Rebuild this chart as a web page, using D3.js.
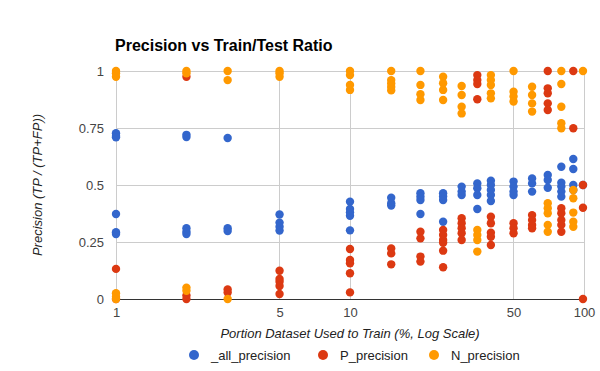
<!DOCTYPE html>
<html>
<head>
<meta charset="utf-8">
<script src="https://cdn.jsdelivr.net/npm/d3@7"></script>
<style>
  body { margin: 0; background: #fff; }
  svg { font-family: "Liberation Sans", Arial, sans-serif; }
</style>
</head>
<body>
<svg id="chart" width="600" height="371"></svg>
<script>
// Series as [train %, precision] pairs
var allPrecision = [
    [1, 0.727], [1, 0.715], [1, 0.709], [1, 0.373], [1, 0.293], [1, 0.285],
    [2, 0.72], [2, 0.71], [2, 0.31], [2, 0.295], [2, 0.285],
    [3, 0.706], [3, 0.31], [3, 0.298],
    [5, 0.371], [5, 0.335], [5, 0.317], [5, 0.3],
    [10, 0.427], [10, 0.395], [10, 0.38], [10, 0.365], [10, 0.301],
    [15, 0.444], [15, 0.42], [15, 0.41],
    [20, 0.464], [20, 0.449], [20, 0.434], [20, 0.373],
    [25, 0.464], [25, 0.45], [25, 0.434], [25, 0.339],
    [30, 0.493], [30, 0.471], [30, 0.456],
    [35, 0.507], [35, 0.486], [35, 0.456], [35, 0.395],
    [40, 0.519], [40, 0.5], [40, 0.478], [40, 0.456], [40, 0.43],
    [50, 0.515], [50, 0.493], [50, 0.471], [50, 0.456],
    [60, 0.529], [60, 0.507], [60, 0.471],
    [70, 0.544], [70, 0.522], [70, 0.488],
    [80, 0.58], [80, 0.51], [80, 0.493], [80, 0.471], [80, 0.449],
    [90, 0.614], [90, 0.57], [90, 0.5], [90, 0.478],
    [99, 0.5]
];

var pPrecision = [
    [1, 0.132], [1, 0.0],
    [2, 0.975], [2, 0.015], [2, 0.0],
    [3, 0.042], [3, 0.028],
    [5, 0.124], [5, 0.088], [5, 0.076], [5, 0.057], [5, 0.022],
    [10, 0.219], [10, 0.171], [10, 0.157], [10, 0.113], [10, 0.029],
    [15, 0.222], [15, 0.2], [15, 0.152],
    [20, 0.295], [20, 0.266], [20, 0.186], [20, 0.164],
    [25, 0.303], [25, 0.281], [25, 0.259], [25, 0.247], [25, 0.212], [25, 0.139],
    [30, 0.354], [30, 0.332], [30, 0.31], [30, 0.288], [30, 0.259],
    [35, 0.982], [35, 0.96], [35, 0.943], [35, 0.876],
    [40, 0.361], [40, 0.332], [40, 0.291], [40, 0.273], [40, 0.237],
    [50, 0.332], [50, 0.31], [50, 0.288],
    [60, 0.368], [60, 0.346], [60, 0.325], [60, 0.31],
    [70, 1.0], [70, 0.924], [70, 0.902], [70, 0.858], [70, 0.829],
    [80, 0.398], [80, 0.376], [80, 0.346], [80, 0.325], [80, 0.295],
    [90, 1.0], [90, 0.749],
    [99, 0.5], [99, 0.4], [99, 0.0]
];

var nPrecision = [
    [1, 1.0], [1, 0.99], [1, 0.975], [1, 0.025], [1, 0.01], [1, 0.0],
    [2, 1.0], [2, 0.99], [2, 0.05], [2, 0.036],
    [3, 1.0], [3, 0.96], [3, 0.0],
    [5, 1.0], [5, 0.99], [5, 0.975],
    [10, 1.0], [10, 0.982], [10, 0.939], [10, 0.917],
    [15, 1.0], [15, 0.96], [15, 0.945], [15, 0.93], [15, 0.915],
    [20, 1.0], [20, 0.939], [20, 0.898], [20, 0.873],
    [25, 0.975], [25, 0.946], [25, 0.917], [25, 0.873],
    [30, 0.934], [30, 0.895], [30, 0.843], [30, 0.814],
    [35, 0.303], [35, 0.281], [35, 0.259], [35, 0.208],
    [40, 0.982], [40, 0.96], [40, 0.939], [40, 0.902], [40, 0.88],
    [50, 1.0], [50, 0.909], [50, 0.888], [50, 0.866],
    [60, 0.931], [60, 0.895], [60, 0.858], [60, 0.822],
    [70, 0.42], [70, 0.398], [70, 0.376], [70, 0.325], [70, 0.295],
    [80, 1.0], [80, 0.943], [80, 0.843], [80, 0.771], [80, 0.749],
    [90, 0.478], [90, 0.442], [90, 0.379], [90, 0.339], [90, 0.317],
    [99, 1.0]
];

var seriesNames = ["_all_precision", "P_precision", "N_precision"];
var seriesColors = ["#3366cc", "#dc3912", "#ff9900"];
var xTicks = [1, 5, 10, 50, 100];
var yTicks = [0, 0.25, 0.5, 0.75, 1];

var svg = d3.select("#chart");

var plot = { left: 116, right: 584, top: 71, bottom: 299 };

var x = d3.scaleLog()
    .domain([1, 100])
    .range([plot.left, plot.right]);

var y = d3.scaleLinear()
    .domain([0, 1])
    .range([plot.bottom, plot.top]);

// Gridlines
var grid = svg.append("g").attr("class", "grid");

grid.selectAll(".hgrid")
    .data(yTicks.filter(function (d) { return d > 0; }))
    .enter()
    .append("line")
    .attr("x1", plot.left)
    .attr("x2", plot.right)
    .attr("y1", function (d) { return y(d); })
    .attr("y2", function (d) { return y(d); })
    .style("stroke", "#cccccc")
    .attr("stroke-width", 1)
    .attr("shape-rendering", "crispEdges");

grid.selectAll(".vgrid")
    .data(xTicks)
    .enter()
    .append("line")
    .attr("x1", function (d) { return x(d); })
    .attr("x2", function (d) { return x(d); })
    .attr("y1", plot.top)
    .attr("y2", plot.bottom)
    .style("stroke", "#cccccc")
    .attr("stroke-width", 1)
    .attr("shape-rendering", "crispEdges");

// Axes (text only, lines handled by grid)
var xAxis = svg.append("g")
    .attr("transform", "translate(0," + plot.bottom + ")")
    .call(d3.axisBottom(x).tickValues(xTicks).tickFormat(d3.format("d")).tickSize(0).tickPadding(9));

var yAxis = svg.append("g")
    .attr("transform", "translate(" + plot.left + ",0)")
    .call(d3.axisLeft(y).tickValues(yTicks).tickFormat(function (d) { return String(d); }).tickSize(0).tickPadding(12));

[xAxis, yAxis].forEach(function (a) {
    a.select(".domain").remove();
    a.selectAll("text")
        .style("font-family", "'Liberation Sans', Arial, sans-serif")
        .style("font-size", "13px")
        .style("fill", "#444444");
});

// Baseline at 0
svg.append("line")
    .attr("x1", plot.left)
    .attr("x2", plot.right)
    .attr("y1", y(0))
    .attr("y2", y(0))
    .style("stroke", "#333333")
    .attr("stroke-width", 1)
    .attr("shape-rendering", "crispEdges");

// Points, drawn series by series so orange sits on top
var seriesData = [allPrecision, pPrecision, nPrecision];

seriesData.forEach(function (data, i) {
    svg.append("g")
        .selectAll("circle")
        .data(data)
        .enter()
        .append("circle")
        .attr("cx", function (d) { return x(d[0]); })
        .attr("cy", function (d) { return y(d[1]); })
        .attr("r", 4.2)
        .attr("fill", seriesColors[i]);
});

// Title
svg.append("text")
    .attr("x", 115)
    .attr("y", 51)
    .style("font-size", "16px")
    .style("font-weight", "bold")
    .style("fill", "#000000")
    .text("Precision vs Train/Test Ratio");

// Axis titles
svg.append("text")
    .attr("x", (plot.left + plot.right) / 2)
    .attr("y", 338)
    .attr("text-anchor", "middle")
    .style("font-size", "13px")
    .style("font-style", "italic")
    .style("fill", "#222222")
    .text("Portion Dataset Used to Train (%, Log Scale)");

svg.append("text")
    .attr("transform", "translate(42," + ((plot.top + plot.bottom) / 2) + ") rotate(-90)")
    .attr("text-anchor", "middle")
    .style("font-size", "13px")
    .style("font-style", "italic")
    .style("fill", "#222222")
    .text("Precision (TP / (TP+FP))");

// Legend
var legendX = [194, 323, 434];
var legend = svg.append("g")
    .selectAll(".legend")
    .data(seriesNames)
    .enter()
    .append("g")
    .attr("transform", function (d, i) { return "translate(" + legendX[i] + ",355)"; });

legend.append("circle")
    .attr("r", 5)
    .attr("fill", function (d, i) { return seriesColors[i]; });

legend.append("text")
    .attr("x", 17)
    .attr("y", 5)
    .style("font-size", "13px")
    .style("fill", "#222222")
    .text(function (d) { return d; });
</script>
</body>
</html>
